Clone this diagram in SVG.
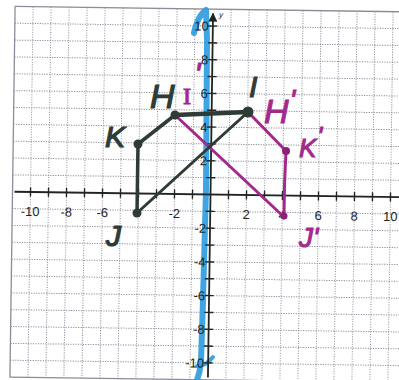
<svg xmlns="http://www.w3.org/2000/svg" width="399" height="380" viewBox="0 0 399 380">
  <style>
    .grid { fill: none; stroke: #8d8d9c; stroke-width: 1; stroke-dasharray: 1.2 1.3; }
    .border { fill: none; stroke: #8d8d99; stroke-width: 1.3; }
    .axis { fill: none; stroke: #1f2622; stroke-width: 1.8; }
    .tick { fill: none; stroke: #1f2622; stroke-width: 1.4; }
    .num { font-family: "Liberation Sans", Arial, sans-serif; font-size: 13px; fill: #1f2622; }
    .xl { text-anchor: middle; }
    .yl { text-anchor: end; }
    .ink { fill: none; stroke: #2f3c35; stroke-linecap: round; stroke-linejoin: round; }
    .mag { fill: none; stroke: #a3298c; stroke-linecap: round; stroke-linejoin: round; stroke-width: 3; }
    .hw-k { font-family: "Liberation Sans", Arial, sans-serif; fill: #2f3c35; stroke: #2f3c35; stroke-width: 1.2; font-style: italic; }
    .hw-m { font-family: "Liberation Sans", Arial, sans-serif; fill: #a3298c; stroke: #a3298c; stroke-width: 1; font-style: italic; }
  </style>
  <defs>
    <marker id="arr" viewBox="0 0 10 10" refX="9" refY="5" markerWidth="5" markerHeight="5" orient="auto-start-reverse">
      <path d="M0,0 L10,5 L0,10 z" fill="#1f2622"/>
    </marker>
  </defs>
  <rect width="399" height="380" fill="#ffffff"/>

  <g id="graph-paper" transform="translate(210.5,194.5) rotate(0.8)">
    <path class="grid" d="M-180,-185.35V185.35 M-162,-185.35V185.35 M-144,-185.35V185.35 M-126,-185.35V185.35 M-108,-185.35V185.35 M-90,-185.35V185.35 M-72,-185.35V185.35 M-54,-185.35V185.35 M-36,-185.35V185.35 M-18,-185.35V185.35 M18,-185.35V185.35 M36,-185.35V185.35 M54,-185.35V185.35 M72,-185.35V185.35 M90,-185.35V185.35 M108,-185.35V185.35 M126,-185.35V185.35 M144,-185.35V185.35 M162,-185.35V185.35 M180,-185.35V185.35"/>
    <path class="grid" d="M-198,-168.5H198 M-198,-151.65H198 M-198,-134.8H198 M-198,-117.95H198 M-198,-101.1H198 M-198,-84.25H198 M-198,-67.4H198 M-198,-50.55H198 M-198,-33.7H198 M-198,-16.85H198 M-198,16.85H198 M-198,33.7H198 M-198,50.55H198 M-198,67.4H198 M-198,84.25H198 M-198,101.1H198 M-198,117.95H198 M-198,134.8H198 M-198,151.65H198 M-198,168.5H198"/>
    <rect class="border" x="-198" y="-185.35" width="396" height="370.7"/>
  </g>

  <g id="y-highlight">
    <path d="M194,33 Q198,15 206,10 L207,40 L206,190 L203,300 L201,362 Q200,372 197,380" fill="none" stroke="#2f9de0" stroke-width="6" stroke-linecap="round" stroke-linejoin="round" opacity="0.92"/>
    <path d="M197,366 Q206,366 213,357" fill="none" stroke="#2f9de0" stroke-width="4" stroke-linecap="round" opacity="0.92"/>
  </g>

  <g id="axes" transform="translate(210.5,194.5) rotate(0.8)">
    <path class="axis" d="M-196,0H198"/>
    <path class="axis" d="M0,183V-181" marker-end="url(#arr)"/>
    <path class="tick" d="M-180,-4.5v9 M-162,-4.5v9 M-144,-4.5v9 M-126,-4.5v9 M-108,-4.5v9 M-90,-4.5v9 M-72,-4.5v9 M-54,-4.5v9 M-36,-4.5v9 M-18,-4.5v9 M18,-4.5v9 M36,-4.5v9 M54,-4.5v9 M72,-4.5v9 M90,-4.5v9 M108,-4.5v9 M126,-4.5v9 M144,-4.5v9 M162,-4.5v9 M180,-4.5v9"/>
    <path class="tick" d="M-4.5,-168.5h9 M-4.5,-151.65h9 M-4.5,-134.8h9 M-4.5,-117.95h9 M-4.5,-101.1h9 M-4.5,-84.25h9 M-4.5,-67.4h9 M-4.5,-50.55h9 M-4.5,-33.7h9 M-4.5,-16.85h9 M-4.5,16.85h9 M-4.5,33.7h9 M-4.5,50.55h9 M-4.5,67.4h9 M-4.5,84.25h9 M-4.5,101.1h9 M-4.5,117.95h9 M-4.5,134.8h9 M-4.5,151.65h9 M-4.5,168.5h9"/>
    <g class="num xl">
      <text x="-180" y="24">-10</text>
      <text x="-144" y="24">-8</text>
      <text x="-108" y="24">-6</text>
      <text x="-36" y="24">-2</text>
      <text x="36" y="24">2</text>
      <text x="72" y="24">4</text>
      <text x="108" y="24">6</text>
      <text x="144" y="24">8</text>
      <text x="180" y="24">10</text>
    </g>
    <g class="num yl">
      <text x="-4" y="-163.8">10</text>
      <text x="-4" y="-130.1">8</text>
      <text x="-4" y="-96.4">6</text>
      <text x="-4" y="-62.7">4</text>
      <text x="-4" y="-29">2</text>
      <text x="-4" y="38.4">-2</text>
      <text x="-4" y="72.1">-4</text>
      <text x="-4" y="105.8">-6</text>
      <text x="-4" y="139.5">-8</text>
      <text x="-4" y="173.2">-10</text>
    </g>
    <text x="6" y="-177" font-family="Liberation Sans, Arial, sans-serif" font-size="8" font-style="italic" fill="#1f2622">y</text>
  </g>

  <g id="connectors">
    <path class="mag" d="M175,115 L284,217"/>
    <path class="mag" d="M248,112 L286,151"/>
    <path class="mag" d="M286,151 Q284,185 284,217"/>
    <path class="ink" stroke-width="3.5" d="M138,144 L175,115"/>
    <path class="ink" stroke-width="4.5" d="M175,115 L248,112"/>
    <path class="ink" stroke-width="3.5" d="M138,144 L137,213"/>
    <path class="ink" stroke-width="3" d="M137,213 L248,112"/>
  </g>

  <g id="node-H">
    <circle cx="175" cy="115" r="4.5" fill="#2f3c35"/>
    <text class="hw-k" x="150" y="108" font-size="34">H</text>
  </g>
  <g id="node-I-prime">
    <text class="hw-m" x="183" y="104" font-size="24" style="font-family: 'Liberation Serif', serif; font-style: normal;">I<tspan dx="3" dy="-18" font-size="34" style="font-family: 'Liberation Sans', sans-serif; font-style: italic;">'</tspan></text>
  </g>
  <g id="node-I">
    <circle cx="248" cy="112" r="5.5" fill="#2f3c35"/>
    <text class="hw-k" x="249" y="97" font-size="30">I</text>
  </g>
  <g id="node-H-prime">
    <text class="hw-m" x="264" y="123" font-size="34">H<tspan dx="1" dy="-13" font-size="30">'</tspan></text>
  </g>
  <g id="node-K">
    <circle cx="138" cy="144" r="4.5" fill="#2f3c35"/>
    <text class="hw-k" x="105" y="147" font-size="30">K</text>
  </g>
  <g id="node-K-prime">
    <circle cx="286" cy="151" r="4" fill="#8e1f78"/>
    <text class="hw-m" x="299" y="157" font-size="26">K<tspan dx="1" dy="-12" font-size="26">'</tspan></text>
  </g>
  <g id="node-J">
    <circle cx="137" cy="213" r="4.5" fill="#2f3c35"/>
    <text class="hw-k" x="106" y="246" font-size="30">J</text>
  </g>
  <g id="node-J-prime">
    <circle cx="284" cy="216" r="3.5" fill="#8e1f78"/>
    <text class="hw-m" x="299" y="247" font-size="28">J'</text>
  </g>
</svg>
